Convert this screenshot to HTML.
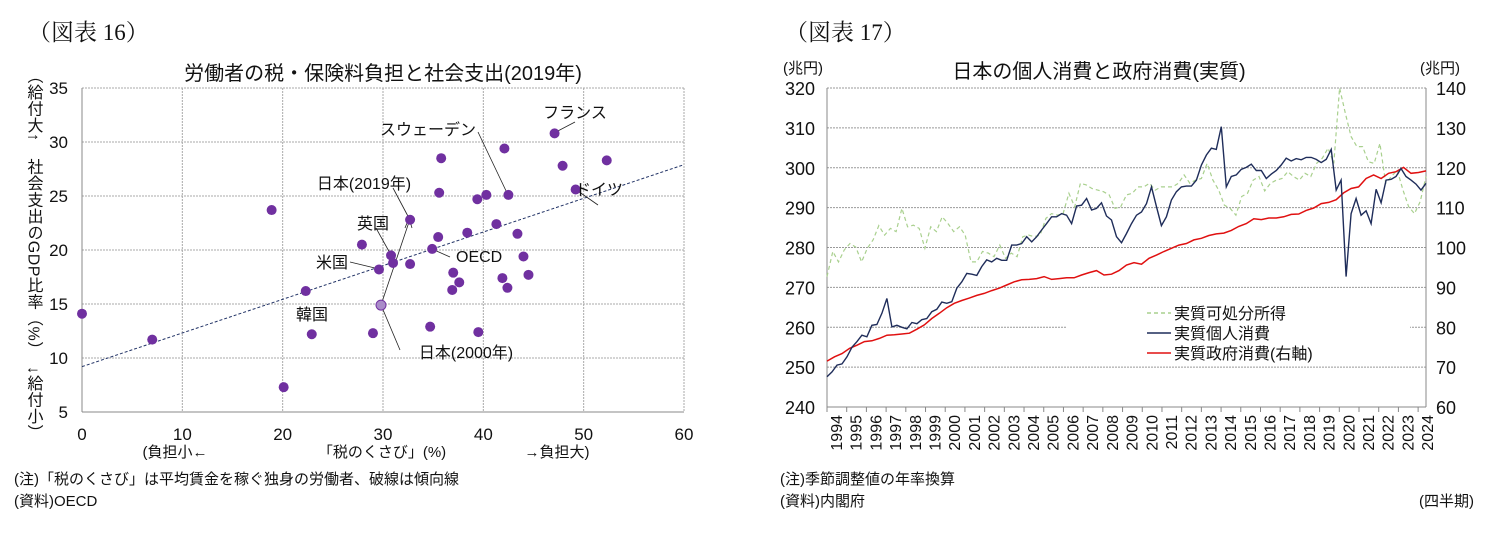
<!DOCTYPE html>
<html><head><meta charset="utf-8"><style>
body{margin:0;background:#fff;width:1494px;height:547px;overflow:hidden;font-family:"Liberation Sans","Noto Sans CJK JP",sans-serif;}
svg{position:absolute;left:0;top:0}
text{font-family:"Liberation Sans","Noto Sans CJK JP",sans-serif;fill:#111}
.serif{font-family:"Liberation Serif","Noto Serif CJK SC",serif}
</style></head><body>
<svg id="s" width="1494" height="547"></svg>
<script>
// ---- Left chart data ----
const scatterX=[47.1,42.1,35.8,47.9,52.3,49.2,35.6,39.4,40.3,42.5,18.9,32.7,41.3,35.5,38.4,43.4,27.9,34.9,30.8,44.0,31.0,32.7,29.6,37.0,37.6,41.9,44.5,36.9,42.4,22.3,0.0,7.0,22.9,29.0,34.7,39.5,20.1];
const scatterY=[30.8,29.4,28.5,27.8,28.3,25.6,25.3,24.7,25.1,25.1,23.7,22.8,22.4,21.2,21.6,21.5,20.5,20.1,19.5,19.4,18.8,18.7,18.2,17.9,17.0,17.4,17.7,16.3,16.5,16.2,14.1,11.7,12.2,12.3,12.9,12.4,7.3];
const japan2000=[29.8,14.9];
const trendEnds=[[0,9.2],[60,27.9]];
const leftXTicks=[0,10,20,30,40,50,60];
const leftYTicks=[5,10,15,20,25,30,35];
// ---- Right chart data (quarterly from 1994Q1) ----
const consumption=[247.6,248.8,250.5,250.8,252.6,255,256.4,258,257.6,260.5,260.7,263.5,267.2,260.1,260.5,260,259.6,261.2,260.9,261.9,262.2,263.9,264.5,266.3,266,266.4,269.8,271.4,273.5,273.3,273,275.2,276.9,276.4,277.3,276.8,276.8,280.6,280.6,281,282.7,281.4,282.7,284.4,286,287.7,287.7,288.5,288.1,286,290.4,290.6,292.3,289.4,289.8,291.2,287.9,286.9,282.7,281.2,283.5,286,288.1,288.9,291,295.2,290.2,285.5,287.7,291.9,294,295.2,295.4,295.4,296.9,300.7,303.2,304.9,304.6,310.3,295.2,297.8,298.2,299.6,300.1,300.9,299.3,299.3,297.3,298.4,299.3,300.7,302.4,301.7,302.3,302,302.6,302.6,302.1,301.3,302.1,304.6,294.4,296.9,272.7,288.5,292.3,288.1,289.2,286,294.6,291.2,296.9,297.1,297.8,299.8,297.8,296.9,295.9,294.4,296.1];
const income=[272.7,279,276.4,279.4,281,280.1,276.4,279.8,281.9,285.5,283.1,284.8,284,289.8,285.2,285.6,284.8,279.8,285.2,284,287.7,286,284,285.2,283.1,276.4,276.4,279,278.6,277.7,280.6,277.3,278.6,277.7,282.7,283.1,282.7,283.1,287.3,288.5,288.1,288.5,293.6,290.2,296.1,295.7,294.8,294.4,294,293.2,289.8,290.2,293.2,293.6,295.2,295.2,296.1,294.4,295.2,295.2,295.2,296.1,298.2,296.1,296.9,297.3,301.1,296.9,294.4,290.6,289.8,288.1,292.8,293.6,296.9,297.8,294.2,296.1,296.9,297.3,299,297.8,296.9,298.6,297.8,301.1,302.4,304.9,301.1,330,313.6,307.8,305.3,305.3,301.5,301.1,306.1,296.1,297.8,299.4,294.4,290.2,288.5,291.5,297.8];
const government=[71.5,72.6,73.4,74.7,75.5,76.4,76.6,77.2,78,78.1,78.3,78.5,79.5,80.6,82.2,83.5,84.9,86,86.7,87.3,88,88.5,89.2,89.8,90.6,91.4,91.9,92,92.2,92.7,92,92.2,92.4,92.4,93.1,93.7,94.2,93.1,93.3,94.2,95.6,96.2,95.8,97.3,98.1,99,99.8,100.6,101,101.9,102.3,103,103.4,103.6,104.3,105.3,106,107.2,107,107.4,107.4,107.7,108.3,108.4,109.3,109.9,111,111.3,112,113.7,114.8,115.2,117.3,118.2,117.3,118.6,119,120.1,118.6,118.8,119.2];
const years=[1994,1995,1996,1997,1998,1999,2000,2001,2002,2003,2004,2005,2006,2007,2008,2009,2010,2011,2012,2013,2014,2015,2016,2017,2018,2019,2020,2021,2022,2023,2024];
const rightLTicks=[240,250,260,270,280,290,300,310,320];
const rightRTicks=[60,70,80,90,100,110,120,130,140];

const NS="http://www.w3.org/2000/svg";
const svg=document.getElementById('s');
function el(tag,attrs,parent){const e=document.createElementNS(NS,tag);for(const k in attrs)e.setAttribute(k,attrs[k]);(parent||svg).appendChild(e);return e;}
function txt(x,y,s,size,anchor,parent,cls){const t=el('text',{x:x,y:y,'font-size':size,'text-anchor':anchor||'start'},parent);if(cls)t.setAttribute('class',cls);t.textContent=s;return t;}

// ===== LEFT =====
const L=el('g',{});


const lx=v=>82+v*(602/60), ly=v=>412-(v-5)*(324/30);
let t=txt(28,40,'（図表 16）',23,'start',L,'serif');

t=txt(383,80,'労働者の税・保険料負担と社会支出(2019年)',20,'middle',L);

leftXTicks.forEach(v=>{if(v>0){const g=el('line',{x1:lx(v),x2:lx(v),y1:88,y2:412,stroke:'#aaa','stroke-dasharray':'2,1'},L);}
 const tk=txt(lx(v),440,String(v),17,'middle',L);});
leftYTicks.forEach(v=>{if(v>5){const g=el('line',{x1:82,x2:684,y1:ly(v),y2:ly(v),stroke:'#aaa','stroke-dasharray':'2,1'},L);}
 const tk=txt(68,ly(v)+6,String(v),17,'end',L);});
el('line',{x1:82,x2:82,y1:88,y2:412,stroke:'#888'},L);
el('line',{x1:82,x2:684,y1:412,y2:412,stroke:'#888'},L);
const tr=el('line',{x1:lx(trendEnds[0][0]),y1:ly(trendEnds[0][1]),x2:lx(trendEnds[1][0]),y2:ly(trendEnds[1][1]),stroke:'#223366','stroke-width':1,'stroke-dasharray':'3,2'},L);

// annotation leaders
const lead=[[554,133,575,122],[508,195,478,132],[575,189,598,205],[410,220,393,188],[391,255,376,228],[379,269,350,262],[432,249,450,257],[381,305,400,350]];
lead.forEach(a=>el('line',{x1:a[0],y1:a[1],x2:a[2],y2:a[3],stroke:'#222','stroke-width':0.8},L));
el('line',{x1:381,y1:305,x2:409,y2:222,stroke:'#222','stroke-width':0.8},L);
el('path',{d:'M405,228 L409,218 L412,228',fill:'none',stroke:'#222','stroke-width':0.8},L);
scatterX.forEach((x,i)=>{const c=el('circle',{cx:lx(x),cy:ly(scatterY[i]),r:5,fill:'#7030a0'},L);
 });
const j0=el('circle',{cx:lx(japan2000[0]),cy:ly(japan2000[1]),r:5,fill:'#a98bc9',stroke:'#7030a0'},L);

[['フランス',575,118,'middle'],['スウェーデン',476,135,'end'],['ドイツ',599,195,'middle'],['日本(2019年)',364,189,'middle'],['英国',373,229,'middle'],['米国',348,268,'end'],['OECD',456,262,'start'],['韓国',312,320,'middle'],['日本(2000年)',466,358,'middle']].forEach(a=>{
 const l=txt(a[1],a[2],a[0],16,a[3],L);});
t=txt(175,457,'(負担小←',15,'middle',L);
t=txt(382,457,'「税のくさび」(%)',15,'middle',L);
t=txt(557,457,'→負担大)',15,'middle',L);
t=txt(14,484,'(注)「税のくさび」は平均賃金を稼ぐ独身の労働者、破線は傾向線',15,'start',L);
t=txt(14,506,'(資料)OECD',15,'start',L);
const yt=txt(0,0,'（給付大↑　社会支出のGDP比率（%）　↓給付小）',16,'middle',L);
yt.setAttribute('transform','translate(33,254)');yt.setAttribute('writing-mode','tb');yt.setAttribute('style','writing-mode:vertical-rl;letter-spacing:0.5px');


// ===== RIGHT =====
const R=el('g',{});


const X0=827,X1=1426,Y0=407,Y1=88;
const ry=v=>Y0-(v-240)*(Y0-Y1)/80, rr=v=>Y0-(v-60)*(Y0-Y1)/80;
const qx=(i,n)=>X0+i*(X1-X0)/(n-1);
t=txt(785,40,'（図表 17）',23,'start',R,'serif');
t=txt(1099,78,'日本の個人消費と政府消費(実質)',20,'middle',R);
t=txt(803,73,'(兆円)',15,'middle',R);
t=txt(1440,73,'(兆円)',15,'middle',R);
rightLTicks.forEach((v,i)=>{if(i>0){const g=el('line',{x1:X0,x2:X1,y1:ry(v),y2:ry(v),stroke:'#999','stroke-dasharray':'2,1'},R);}
 const a=txt(815,ry(v)+7,String(v),18,'end',R);});
rightRTicks.forEach(v=>{const a=txt(1436,rr(v)+7,String(v),18,'start',R);});
el('line',{x1:X0,x2:X0,y1:Y1,y2:Y0,stroke:'#888'},R);
el('line',{x1:X1,x2:X1,y1:Y1,y2:Y0,stroke:'#888'},R);
el('line',{x1:X0,x2:X1,y1:Y0,y2:Y0,stroke:'#888'},R);
years.forEach((y,i)=>{const x=X0+i*(X1-X0)/30.4;
 el('line',{x1:x,x2:x,y1:Y0,y2:Y0+5,stroke:'#888'},R);
 const a=txt(0,0,String(y),16,'end',R);a.setAttribute('transform','translate('+(x+15)+','+(Y0+8)+') rotate(-90)');
 });
// legend background
el('rect',{x:1066,y:300,width:344,height:66,fill:'#fff'},R);
function poly(arr,f,color,w,dash,name){const n=arr.length;const p=arr.map((v,i)=>qx(i,n).toFixed(1)+','+Math.max(Y1,f(v)).toFixed(1)).join(' ');
 const e=el('polyline',{points:p,fill:'none',stroke:color,'stroke-width':w},R);if(dash)e.setAttribute('stroke-dasharray',dash);
 }
poly(income,ry,'#a9d08e',1.2,'4,3','income-line');
poly(government,rr,'#e01010',1.5,null,'government-line');
poly(consumption,ry,'#1f2d5a',1.4,null,'consumption-line');
[['実質可処分所得','#a9d08e','4,3',313],['実質個人消費','#1f2d5a',null,333],['実質政府消費(右軸)','#e01010',null,353]].forEach(a=>{
 const g=el('g',{},R);
 const l=el('line',{x1:1147,x2:1171,y1:a[3],y2:a[3],stroke:a[1],'stroke-width':1.5},g);if(a[2])l.setAttribute('stroke-dasharray',a[2]);
 txt(1174,a[3]+6,a[0],16,'start',g);});
t=txt(780,484,'(注)季節調整値の年率換算',15,'start',R);
t=txt(780,506,'(資料)内閣府',15,'start',R);
t=txt(1474,506,'(四半期)',15,'end',R);
</script>
</body></html>
